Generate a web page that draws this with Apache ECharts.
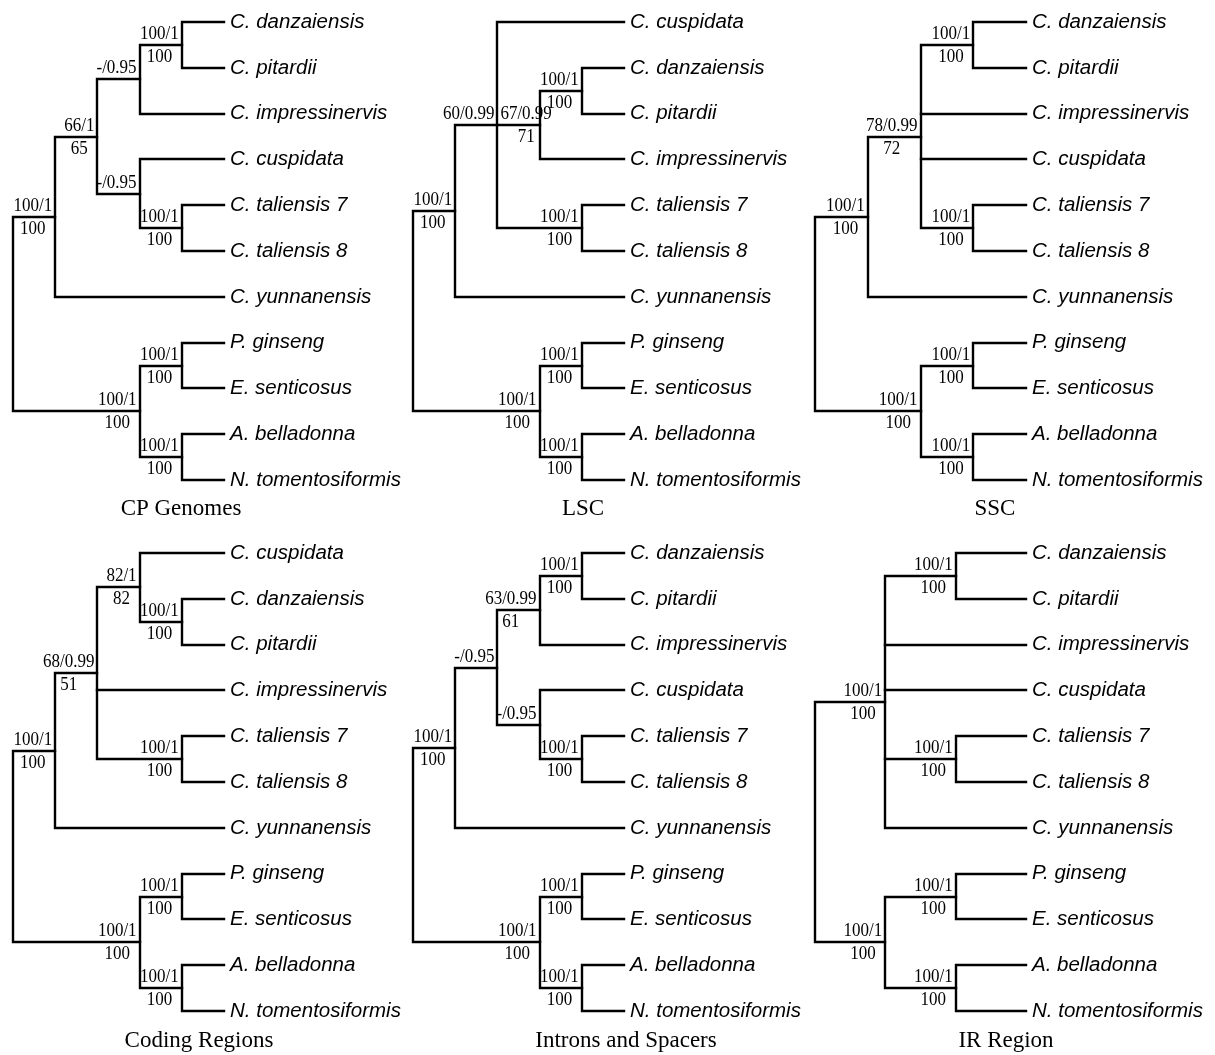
<!DOCTYPE html>
<html><head><meta charset="utf-8">
<script src="https://cdn.jsdelivr.net/npm/echarts@6/dist/echarts.min.js"></script>
<style>html,body{margin:0;padding:0;background:#fff}#c{width:1215px;height:1055px}</style>
</head><body><div id="c"></div>
<script>
// ---------- DATA (Newick-like: "(children)top|bottom" support labels) ----------
const panelTitles = ['CP Genomes', 'LSC', 'SSC', 'Coding Regions', 'Introns and Spacers', 'IR Region'];
const outgroup = '((P. ginseng,E. senticosus)100/1|100,(A. belladonna,N. tomentosiformis)100/1|100)100/1|100';
const treeCP = '(((((C. danzaiensis,C. pitardii)100/1|100,C. impressinervis)-/0.95,(C. cuspidata,(C. taliensis 7,C. taliensis 8)100/1|100)-/0.95)66/1|65,C. yunnanensis)100/1|100,' + outgroup + ')';
const treeLSC = '(((C. cuspidata,((C. danzaiensis,C. pitardii)100/1|100,C. impressinervis)67/0.99|71,(C. taliensis 7,C. taliensis 8)100/1|100)60/0.99,C. yunnanensis)100/1|100,' + outgroup + ')';
const treeSSC = '((((C. danzaiensis,C. pitardii)100/1|100,C. impressinervis,C. cuspidata,(C. taliensis 7,C. taliensis 8)100/1|100)78/0.99|72,C. yunnanensis)100/1|100,' + outgroup + ')';
const treeCoding = '((((C. cuspidata,(C. danzaiensis,C. pitardii)100/1|100)82/1|82,C. impressinervis,(C. taliensis 7,C. taliensis 8)100/1|100)68/0.99|51,C. yunnanensis)100/1|100,' + outgroup + ')';
const treeIntrons = '(((((C. danzaiensis,C. pitardii)100/1|100,C. impressinervis)63/0.99|61,(C. cuspidata,(C. taliensis 7,C. taliensis 8)100/1|100)-/0.95)-/0.95,C. yunnanensis)100/1|100,' + outgroup + ')';
const treeIR = '(((C. danzaiensis,C. pitardii)100/1|100,C. impressinervis,C. cuspidata,(C. taliensis 7,C. taliensis 8)100/1|100,C. yunnanensis)100/1|100,' + outgroup + ')';
const trees = [treeCP, treeLSC, treeSSC, treeCoding, treeIntrons, treeIR];

// ---------- LAYOUT ----------
const gridLeft = [13, 413, 815];
const gridTop = [22, 553];
const gridW = 211, gridH = 458;
const titleX = [181, 583, 995, 199, 626, 1006];
const titleY = [509, 1041];

const supFont = 'Liberation Serif', supSize = 17, supScaleY = 1.12;
const mctx = document.createElement('canvas').getContext('2d');
function textW(t) { mctx.font = supSize + 'px "' + supFont + '"'; return mctx.measureText(t).width; }

function parseNewick(s) {
  let i = 0;
  function readText() {
    let t = '';
    while (i < s.length && ',()'.indexOf(s[i]) < 0) t += s[i++];
    return t.trim();
  }
  function node() {
    if (s[i] === '(') {
      i++;
      const children = [node()];
      while (s[i] === ',') { i++; children.push(node()); }
      i++;
      const lab = readText();
      const parts = lab ? lab.split('|') : [];
      return { children, top: parts[0] || '', bottom: parts[1] || '' };
    }
    return { name: readText(), children: [] };
  }
  return node();
}

function layoutTree(str) {
  const root = parseNewick(str);
  const leaves = [];
  (function walk(n) {
    if (!n.children.length) { n.y = leaves.length; leaves.push(n.name); n.h = 0; return; }
    n.children.forEach(walk);
    n.h = 1 + Math.max(...n.children.map(c => c.h));
    n.y = (n.children[0].y + n.children[n.children.length - 1].y) / 2;
  })(root);
  const H = root.h;
  const brackets = [], stems = [], labels = [];
  (function place(n, parent) {
    n.x = H - n.h;
    if (parent && (n.top || n.bottom)) {
      labels.push({ value: [parent.x, n.x, n.y, (parent.top && parent.y === n.y) ? 1 : 0], top: n.top, bottom: n.bottom });
    }
    n.children.forEach(c => place(c, n));
    if (n.children.length) {
      const a = n.children[0], b = n.children[n.children.length - 1];
      brackets.push([a.x, a.y, n.x, a.y, n.x, b.y, b.x, b.y]);
      n.children.slice(1, -1).forEach(c => stems.push([n.x, c.y, c.x, c.y]));
    }
  })(root, null);
  return { H, leaves, brackets, stems, labels };
}

const lineStyle = { stroke: '#000', lineWidth: 2.4, fill: null, lineJoin: 'miter', lineCap: 'square' };
function rc(p) { return [Math.round(p[0]), Math.round(p[1])]; }

function renderBracket(params, api) {
  const pts = [0, 1, 2, 3].map(k => rc(api.coord([api.value(2 * k), api.value(2 * k + 1)])));
  return { type: 'polyline', shape: { points: pts }, style: lineStyle };
}
function renderStem(params, api) {
  const pts = [0, 1].map(k => rc(api.coord([api.value(2 * k), api.value(2 * k + 1)])));
  return { type: 'polyline', shape: { points: pts }, style: lineStyle };
}
function makeLabelRenderer(labels) {
  return function (params, api) {
    const it = labels[params.dataIndex];
    const p = api.coord([api.value(0), api.value(2)]);
    const c = api.coord([api.value(1), api.value(2)]);
    const w = textW(it.top);
    let left = c[0] - 3 - w;
    if (api.value(3) === 1 && left < p[0] + 3) left = p[0] + 3;
    const center = left + w / 2;
    const children = [];
    const base = { fontSize: supSize, fontFamily: supFont, fill: '#000', verticalAlign: 'middle' };
    if (it.top) children.push({ type: 'text', x: left, y: c[1] - 11, scaleY: supScaleY,
      style: Object.assign({ text: it.top, align: 'left', x: 0, y: 0 }, base) });
    if (it.bottom) children.push({ type: 'text', x: center, y: c[1] + 12, scaleY: supScaleY,
      style: Object.assign({ text: it.bottom, align: 'center', x: 0, y: 0 }, base) });
    return { type: 'group', children };
  };
}

const grid = [], xAxis = [], yAxis = [], series = [], graphic = [];
trees.forEach((str, i) => {
  const T = layoutTree(str);
  grid.push({ left: gridLeft[i % 3], top: gridTop[Math.floor(i / 3)], width: gridW, height: gridH });
  xAxis.push({ gridIndex: i, type: 'value', min: 0, max: T.H, show: false });
  yAxis.push({ gridIndex: i, type: 'value', min: 0, max: T.leaves.length - 1, inverse: true, show: false });
  yAxis.push({ gridIndex: i, type: 'category', data: T.leaves, inverse: true, boundaryGap: false, position: 'right',
    axisLine: { show: false }, axisTick: { show: false }, splitLine: { show: false },
    axisLabel: { interval: 0, margin: 6, fontSize: 20.5, fontStyle: 'italic', fontFamily: 'Liberation Sans', color: '#000' } });
  const common = { xAxisIndex: i, yAxisIndex: 2 * i, silent: true, animation: false };
  series.push(Object.assign({ type: 'custom', renderItem: renderBracket, data: T.brackets }, common));
  series.push(Object.assign({ type: 'custom', renderItem: renderStem, data: T.stems }, common));
  series.push(Object.assign({ type: 'custom', renderItem: makeLabelRenderer(T.labels), data: T.labels.map(l => l.value) }, common));
  graphic.push({ type: 'text', x: titleX[i], y: titleY[Math.floor(i / 3)],
    style: { text: panelTitles[i], fontSize: 23, fontFamily: 'Liberation Serif', fill: '#000', align: 'center', verticalAlign: 'middle' } });
});

const chart = echarts.init(document.getElementById('c'), null, { renderer: 'canvas' });
chart.setOption({ backgroundColor: '#fff', animation: false, grid, xAxis, yAxis, series, graphic });
</script>
</body></html>
